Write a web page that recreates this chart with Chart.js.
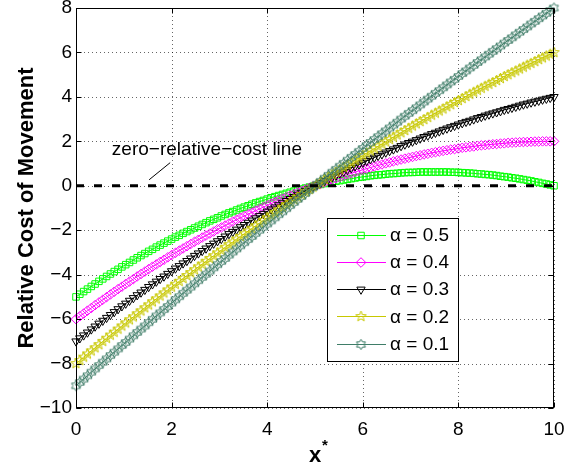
<!DOCTYPE html>
<html><head><meta charset="utf-8">
<script src="https://cdn.jsdelivr.net/npm/chart.js@4/dist/chart.umd.min.js"></script>
<style>html,body{margin:0;padding:0;background:#fff}#wrap{width:564px;height:468px}</style>
</head><body><div id="wrap"><canvas id="c" width="564" height="468"></canvas></div>
<script>
// ---------- data ----------
const xValues = [0,0.08,0.16,0.24,0.32,0.4,0.48,0.56,0.64,0.72,
0.8,0.88,0.96,1.04,1.12,1.2,1.28,1.36,1.44,1.52,
1.6,1.68,1.76,1.84,1.92,2,2.08,2.16,2.24,2.32,
2.4,2.48,2.56,2.64,2.72,2.8,2.88,2.96,3.04,3.12,
3.2,3.28,3.36,3.44,3.52,3.6,3.68,3.76,3.84,3.92,
4,4.08,4.16,4.24,4.32,4.4,4.48,4.56,4.64,4.72,
4.8,4.88,4.96,5.04,5.12,5.2,5.28,5.36,5.44,5.52,
5.6,5.68,5.76,5.84,5.92,6,6.08,6.16,6.24,6.32,
6.4,6.48,6.56,6.64,6.72,6.8,6.88,6.96,7.04,7.12,
7.2,7.28,7.36,7.44,7.52,7.6,7.68,7.76,7.84,7.92,
8,8.08,8.16,8.24,8.32,8.4,8.48,8.56,8.64,8.72,
8.8,8.88,8.96,9.04,9.12,9.2,9.28,9.36,9.44,9.52,
9.6,9.68,9.76,9.84,9.92,10];

const alpha05 = [-5,-4.88,-4.76,-4.65,-4.53,-4.42,-4.30,-4.19,-4.08,-3.97,
-3.86,-3.76,-3.65,-3.55,-3.45,-3.34,-3.24,-3.14,-3.05,-2.95,
-2.86,-2.76,-2.67,-2.58,-2.49,-2.40,-2.31,-2.23,-2.14,-2.06,
-1.98,-1.90,-1.82,-1.74,-1.66,-1.58,-1.51,-1.44,-1.36,-1.29,
-1.22,-1.16,-1.09,-1.02,-0.96,-0.90,-0.83,-0.77,-0.71,-0.66,
-0.60,-0.54,-0.49,-0.44,-0.39,-0.34,-0.29,-0.24,-0.19,-0.15,
-0.10,-0.06,-0.02,0.02,0.06,0.10,0.13,0.17,0.20,0.23,
0.26,0.29,0.32,0.35,0.38,0.40,0.42,0.45,0.47,0.49,
0.50,0.52,0.54,0.55,0.56,0.58,0.59,0.60,0.60,0.61,
0.62,0.62,0.62,0.62,0.62,0.62,0.62,0.62,0.61,0.61,
0.60,0.59,0.58,0.57,0.56,0.54,0.53,0.51,0.50,0.48,
0.46,0.43,0.41,0.39,0.36,0.34,0.31,0.28,0.25,0.22,
0.18,0.15,0.11,0.08,0.04,0];

const alpha04 = [-6,-5.87,-5.75,-5.62,-5.50,-5.37,-5.25,-5.13,-5.01,-4.89,
-4.77,-4.65,-4.54,-4.42,-4.31,-4.20,-4.08,-3.97,-3.86,-3.75,
-3.64,-3.54,-3.43,-3.33,-3.22,-3.12,-3.02,-2.92,-2.82,-2.72,
-2.62,-2.52,-2.43,-2.33,-2.24,-2.15,-2.06,-1.96,-1.88,-1.79,
-1.70,-1.61,-1.53,-1.44,-1.36,-1.28,-1.20,-1.12,-1.04,-0.96,
-0.88,-0.80,-0.73,-0.65,-0.58,-0.51,-0.44,-0.37,-0.30,-0.23,
-0.16,-0.10,-0.03,0.03,0.09,0.16,0.22,0.28,0.34,0.39,
0.45,0.51,0.56,0.62,0.67,0.72,0.77,0.82,0.87,0.92,
0.96,1.01,1.05,1.10,1.14,1.18,1.22,1.26,1.30,1.34,
1.37,1.41,1.44,1.48,1.51,1.54,1.57,1.60,1.63,1.65,
1.68,1.71,1.73,1.75,1.77,1.80,1.82,1.83,1.85,1.87,
1.88,1.90,1.91,1.93,1.94,1.95,1.96,1.97,1.97,1.98,
1.99,1.99,2.00,2.00,2.00,2];

const alpha03 = [-7,-6.86,-6.73,-6.60,-6.46,-6.33,-6.20,-6.07,-5.94,-5.81,
-5.68,-5.55,-5.42,-5.30,-5.17,-5.05,-4.92,-4.80,-4.68,-4.55,
-4.43,-4.31,-4.19,-4.08,-3.96,-3.84,-3.72,-3.61,-3.49,-3.38,
-3.27,-3.15,-3.04,-2.93,-2.82,-2.71,-2.60,-2.49,-2.39,-2.28,
-2.17,-2.07,-1.97,-1.86,-1.76,-1.66,-1.56,-1.46,-1.36,-1.26,
-1.16,-1.06,-0.97,-0.87,-0.78,-0.68,-0.59,-0.50,-0.40,-0.31,
-0.22,-0.13,-0.04,0.04,0.13,0.22,0.30,0.39,0.47,0.56,
0.64,0.72,0.80,0.88,0.96,1.04,1.12,1.20,1.27,1.35,
1.42,1.50,1.57,1.64,1.71,1.79,1.86,1.93,1.99,2.06,
2.13,2.20,2.26,2.33,2.39,2.45,2.52,2.58,2.64,2.70,
2.76,2.82,2.88,2.93,2.99,3.05,3.10,3.16,3.21,3.26,
3.31,3.36,3.42,3.46,3.51,3.56,3.61,3.66,3.70,3.75,
3.79,3.83,3.88,3.92,3.96,4];

const alpha02 = [-8,-7.86,-7.71,-7.57,-7.43,-7.29,-7.15,-7.00,-6.86,-6.72,
-6.59,-6.45,-6.31,-6.17,-6.03,-5.90,-5.76,-5.63,-5.49,-5.36,
-5.22,-5.09,-4.96,-4.82,-4.69,-4.56,-4.43,-4.30,-4.17,-4.04,
-3.91,-3.78,-3.65,-3.53,-3.40,-3.27,-3.15,-3.02,-2.90,-2.77,
-2.65,-2.53,-2.40,-2.28,-2.16,-2.04,-1.92,-1.80,-1.68,-1.56,
-1.44,-1.32,-1.20,-1.09,-0.97,-0.85,-0.74,-0.62,-0.51,-0.40,
-0.28,-0.17,-0.06,0.06,0.17,0.28,0.39,0.50,0.61,0.72,
0.83,0.93,1.04,1.15,1.25,1.36,1.47,1.57,1.67,1.78,
1.88,1.98,2.09,2.19,2.29,2.39,2.49,2.59,2.69,2.79,
2.89,2.98,3.08,3.18,3.27,3.37,3.46,3.56,3.65,3.75,
3.84,3.93,4.02,4.12,4.21,4.30,4.39,4.48,4.57,4.65,
4.74,4.83,4.92,5.00,5.09,5.17,5.26,5.34,5.43,5.51,
5.59,5.68,5.76,5.84,5.92,6];

const alpha01 = [-9,-8.85,-8.70,-8.55,-8.39,-8.24,-8.09,-7.94,-7.79,-7.64,
-7.49,-7.34,-7.19,-7.05,-6.90,-6.75,-6.60,-6.45,-6.31,-6.16,
-6.01,-5.86,-5.72,-5.57,-5.43,-5.28,-5.13,-4.99,-4.84,-4.70,
-4.56,-4.41,-4.27,-4.12,-3.98,-3.84,-3.69,-3.55,-3.41,-3.27,
-3.12,-2.98,-2.84,-2.70,-2.56,-2.42,-2.28,-2.14,-2.00,-1.86,
-1.72,-1.58,-1.44,-1.30,-1.17,-1.03,-0.89,-0.75,-0.61,-0.48,
-0.34,-0.20,-0.07,0.07,0.20,0.34,0.47,0.61,0.74,0.88,
1.01,1.15,1.28,1.41,1.55,1.68,1.81,1.95,2.08,2.21,
2.34,2.47,2.60,2.73,2.86,3.00,3.13,3.26,3.38,3.51,
3.64,3.77,3.90,4.03,4.16,4.28,4.41,4.54,4.67,4.79,
4.92,5.05,5.17,5.30,5.42,5.55,5.67,5.80,5.92,6.05,
6.17,6.29,6.42,6.54,6.66,6.79,6.91,7.03,7.15,7.28,
7.40,7.52,7.64,7.76,7.88,8];

const seriesLabels = ['\u03b1 = 0.5','\u03b1 = 0.4','\u03b1 = 0.3','\u03b1 = 0.2','\u03b1 = 0.1'];
const zeroLineX = [0, 10];
const zeroLineY = [0, 0];
const xTicks = [0,2,4,6,8,10];
const yTicks = [-10,-8,-6,-4,-2,0,2,4,6,8];
const annotationText = 'zero\u2212relative\u2212cost line';
const xTitle = 'x';
const xTitleSup = '*';
const yTitle = 'Relative Cost of Movement';

// ---------- styling ----------
const FONT = '"Liberation Sans", Arial, Helvetica, sans-serif';
const colors = ['#00ff00','#ff00ff','#000000','#c8c800','#3f7d68'];

function starCanvas(points, outerR, innerR, color){
  const s = Math.ceil(outerR*2 + 4);
  const c = document.createElement('canvas'); c.width = s; c.height = s;
  const g = c.getContext('2d');
  g.translate(s/2, s/2);
  g.beginPath();
  for (let i = 0; i < points*2; i++){
    const r = (i % 2 === 0) ? outerR : innerR;
    const a = -Math.PI/2 + i*Math.PI/points;
    const px = r*Math.cos(a), py = r*Math.sin(a);
    if (i === 0) g.moveTo(px, py); else g.lineTo(px, py);
  }
  g.closePath();
  g.strokeStyle = color; g.lineWidth = 1; g.stroke();
  return c;
}
const pentagram = starCanvas(5, 5.5, 2.3, colors[3]);
const hexagram = starCanvas(6, 5.2, 3.0, colors[4]);

const markerStyles = [
  {pointStyle:'rect', radius:4.6, rotation:0},
  {pointStyle:'rectRot', radius:4.8, rotation:0},
  {pointStyle:'triangle', radius:4.8, rotation:180},
  {pointStyle:pentagram, radius:5, rotation:0},
  {pointStyle:hexagram, radius:5, rotation:0}
];

const seriesValues = [alpha05, alpha04, alpha03, alpha02, alpha01];

const datasets = seriesValues.map((vals, i) => ({
  label: seriesLabels[i],
  data: xValues.map((x, j) => ({x: x, y: vals[j]})),
  borderColor: colors[i],
  backgroundColor: 'rgba(0,0,0,0)',
  borderWidth: 1,
  pointStyle: markerStyles[i].pointStyle,
  pointRadius: markerStyles[i].radius,
  pointRotation: markerStyles[i].rotation,
  pointBorderColor: colors[i],
  pointBackgroundColor: 'rgba(0,0,0,0)',
  pointBorderWidth: 1,
  tension: 0,
  clip: false,
  order: 5 - i
}));

datasets.push({
  label: 'zero',
  data: zeroLineX.map((x, j) => ({x: x, y: zeroLineY[j]})),
  borderColor: '#000',
  borderWidth: 3,
  borderDash: [8, 10],
  pointRadius: 0,
  order: -1
});

const fmt = v => String(v).replace('-', '\u2212');

const matlabAxes = {
  id: 'matlabAxes',
  beforeDraw(chart){
    const ctx = chart.ctx;
    ctx.save(); ctx.fillStyle = '#fff'; ctx.fillRect(0,0,chart.width,chart.height); ctx.restore();
  },
  beforeDatasetsDraw(chart){
    const {ctx, chartArea: a, scales:{x, y}} = chart;
    ctx.save();
    ctx.strokeStyle = 'rgba(0,0,0,0.6)';
    ctx.lineWidth = 1;
    ctx.setLineDash([1, 3]);
    xTicks.forEach(v => {
      const px = Math.round(x.getPixelForValue(v)) + 0.5;
      ctx.beginPath(); ctx.moveTo(px, a.top); ctx.lineTo(px, a.bottom); ctx.stroke();
    });
    yTicks.forEach(v => {
      const py = Math.round(y.getPixelForValue(v)) + 0.5;
      ctx.beginPath(); ctx.moveTo(a.left, py); ctx.lineTo(a.right, py); ctx.stroke();
    });
    ctx.restore();
  },
  afterDatasetsDraw(chart){
    const {ctx, chartArea: a, scales:{x, y}} = chart;
    ctx.save();
    // box
    ctx.strokeStyle = '#000'; ctx.lineWidth = 1; ctx.setLineDash([]);
    const L = Math.round(a.left)+0.5, R = Math.round(a.right)-0.5, T = Math.round(a.top)+0.5, B = Math.round(a.bottom)-0.5;
    ctx.strokeRect(L, T, R-L, B-T);
    // inward ticks
    const tl = 5;
    ctx.beginPath();
    xTicks.forEach(v => {
      const px = Math.round(x.getPixelForValue(v)) + 0.5;
      ctx.moveTo(px, B); ctx.lineTo(px, B-tl);
      ctx.moveTo(px, T); ctx.lineTo(px, T+tl);
    });
    yTicks.forEach(v => {
      const py = Math.round(y.getPixelForValue(v)) + 0.5;
      ctx.moveTo(L, py); ctx.lineTo(L+tl, py);
      ctx.moveTo(R, py); ctx.lineTo(R-tl, py);
    });
    ctx.stroke();

    // annotation
    ctx.lineWidth = 1;
    ctx.beginPath();
    ctx.moveTo(x.getPixelForValue(1.53), y.getPixelForValue(0.27));
    ctx.lineTo(x.getPixelForValue(1.97), y.getPixelForValue(1.04));
    ctx.stroke();
    ctx.fillStyle = '#000';
    ctx.font = '19px ' + FONT;
    ctx.textAlign = 'left'; ctx.textBaseline = 'middle';
    ctx.fillText(annotationText, x.getPixelForValue(0.75), y.getPixelForValue(1.62));

    // legend
    const lx = 327, ly = 218, lw = 131, lh = 143;
    ctx.fillStyle = '#fff'; ctx.fillRect(lx, ly, lw, lh);
    ctx.strokeStyle = '#000'; ctx.strokeRect(lx+0.5, ly+0.5, lw, lh);
    ctx.font = '19px ' + FONT;
    ctx.textBaseline = 'middle'; ctx.textAlign = 'left';
    seriesLabels.forEach((lab, i) => {
      const ry = ly + 16.5 + i*27.3;
      ctx.strokeStyle = colors[i]; ctx.lineWidth = 1;
      ctx.beginPath(); ctx.moveTo(lx+10, Math.round(ry)+0.5); ctx.lineTo(lx+59, Math.round(ry)+0.5); ctx.stroke();
      ctx.fillStyle = 'rgba(0,0,0,0)';
      Chart.helpers.drawPoint(ctx, {pointStyle: markerStyles[i].pointStyle, radius: markerStyles[i].radius, rotation: markerStyles[i].rotation, borderWidth: 1}, lx+34, Math.round(ry)+0.5);
      ctx.fillStyle = '#000';
      ctx.fillText(lab, lx+63, ry+1);
    });

    // axis titles
    ctx.fillStyle = '#000';
    ctx.font = 'bold 22px ' + FONT;
    ctx.textAlign = 'center'; ctx.textBaseline = 'alphabetic';
    ctx.fillText(xTitle, 315, 462);
    ctx.font = 'bold 15px ' + FONT;
    ctx.fillText(xTitleSup, 325, 450);
    ctx.save();
    ctx.translate(33, (a.top + a.bottom)/2);
    ctx.rotate(-Math.PI/2);
    ctx.font = 'bold 22px ' + FONT;
    ctx.textAlign = 'center'; ctx.textBaseline = 'alphabetic';
    ctx.fillText(yTitle, 0, 0);
    ctx.restore();
    ctx.restore();
  }
};

new Chart(document.getElementById('c'), {
  type: 'line',
  data: { datasets: datasets },
  options: {
    responsive: false,
    animation: false,
    devicePixelRatio: 1,
    events: [],
    layout: { padding: { top: 8, right: 10, left: 0, bottom: 0 } },
    plugins: { legend: { display: false }, tooltip: { enabled: false } },
    scales: {
      x: {
        type: 'linear', min: 0, max: 10, position: 'bottom',
        afterBuildTicks(s){ s.ticks = xTicks.map(v => ({value: v})); },
        ticks: { font: {family: FONT, size: 19}, color: '#000', padding: 10, maxRotation: 0, autoSkip: false, callback: v => fmt(v) },
        grid: { display: false, drawTicks: false },
        border: { display: false },
        afterFit(s){ s.height = 60; s.paddingLeft = 0; s.paddingRight = 0; }
      },
      y: {
        type: 'linear', min: -10, max: 8,
        afterBuildTicks(s){ s.ticks = yTicks.map(v => ({value: v})); },
        ticks: { font: {family: FONT, size: 19}, color: '#000', padding: 4, autoSkip: false, callback: v => fmt(v) },
        grid: { display: false, drawTicks: false },
        border: { display: false },
        afterFit(s){ s.width = 76; s.paddingTop = 0; s.paddingBottom = 0; }
      }
    }
  },
  plugins: [matlabAxes]
});
</script>
</body></html>
